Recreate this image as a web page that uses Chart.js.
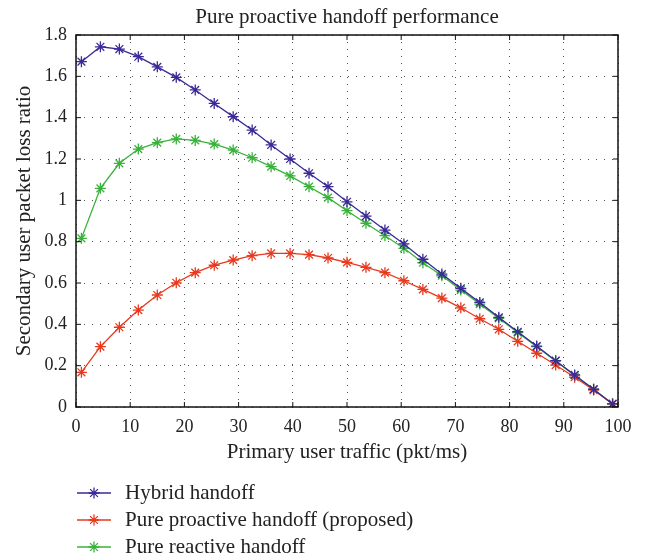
<!DOCTYPE html>
<html>
<head>
<meta charset="utf-8">
<script src="https://cdn.jsdelivr.net/npm/chart.js@4/dist/chart.umd.min.js"></script>
<style>
  html, body { margin: 0; padding: 0; background: #fff; }
  #wrap { width: 648px; height: 560px; }
</style>
</head>
<body>
<div id="wrap"><canvas id="lossChart" width="648" height="560"></canvas></div>
<script>
// Primary user traffic (pkt/ms)
const traffic = [1, 4.5, 8, 11.5, 15, 18.5, 22, 25.5, 29, 32.5, 36, 39.5, 43, 46.5, 50,
                 53.5, 57, 60.5, 64, 67.5, 71, 74.5, 78, 81.5, 85, 88.5, 92, 95.5, 99];

// Secondary user packet loss ratio
const hybrid = [1.671, 1.743, 1.732, 1.695, 1.646, 1.595, 1.534, 1.469, 1.405, 1.340,
                1.268, 1.200, 1.131, 1.066, 0.993, 0.924, 0.856, 0.789, 0.715, 0.643,
                0.574, 0.506, 0.434, 0.364, 0.295, 0.224, 0.155, 0.086, 0.015];
const proactive = [0.168, 0.292, 0.386, 0.469, 0.542, 0.601, 0.650, 0.686, 0.711, 0.732,
                   0.743, 0.743, 0.737, 0.721, 0.700, 0.676, 0.650, 0.611, 0.569, 0.527,
                   0.480, 0.427, 0.376, 0.318, 0.260, 0.203, 0.144, 0.082, 0.015];
const reactive = [0.816, 1.058, 1.179, 1.248, 1.279, 1.297, 1.290, 1.272, 1.243, 1.206,
                  1.163, 1.118, 1.066, 1.013, 0.950, 0.889, 0.829, 0.768, 0.698, 0.635,
                  0.566, 0.498, 0.429, 0.360, 0.292, 0.223, 0.153, 0.086, 0.015];

const seriesNames = ['Hybrid handoff', 'Pure proactive handoff (proposed)', 'Pure reactive handoff'];
const xTicks = [0, 10, 20, 30, 40, 50, 60, 70, 80, 90, 100];
const yTicks = [0, 0.2, 0.4, 0.6, 0.8, 1, 1.2, 1.4, 1.6, 1.8];

const FONT = '"Liberation Serif", "DejaVu Serif", serif';
const colors = ['#3a2a98', '#e8391d', '#38b23a'];

function makeSet(label, values, color) {
    return {
        label: label,
        data: traffic.map((x, i) => ({ x: x, y: values[i] })),
        borderColor: color,
        backgroundColor: color,
        borderWidth: 1.3,
        pointStyle: 'star',
        pointRadius: 5.5,
        pointBorderWidth: 1.3,
        pointBorderColor: color,
        tension: 0
    };
}

// center the title over the plot area instead of the whole canvas
const titleCenterPlugin = {
    id: 'titleCenter',
    afterLayout(chart) {
        if (chart.titleBlock) {
            chart.titleBlock.left = chart.chartArea.left;
            chart.titleBlock.right = chart.chartArea.right;
        }
    }
};

// frame with inward ticks, like the original plot
const framePlugin = {
    id: 'frame',
    afterDatasetsDraw(chart) {
        const { ctx, chartArea: a, scales } = chart;
        ctx.save();
        ctx.strokeStyle = '#111';
        ctx.lineWidth = 1.5;
        ctx.strokeRect(a.left, a.top, a.right - a.left, a.bottom - a.top);
        ctx.lineWidth = 1;
        const len = 5;
        xTicks.forEach(v => {
            const px = scales.x.getPixelForValue(v);
            ctx.beginPath();
            ctx.moveTo(px, a.bottom); ctx.lineTo(px, a.bottom - len);
            ctx.moveTo(px, a.top); ctx.lineTo(px, a.top + len);
            ctx.stroke();
        });
        yTicks.forEach(v => {
            const py = scales.y.getPixelForValue(v);
            ctx.beginPath();
            ctx.moveTo(a.left, py); ctx.lineTo(a.left + len, py);
            ctx.moveTo(a.right, py); ctx.lineTo(a.right - len, py);
            ctx.stroke();
        });
        ctx.restore();
    }
};

// vertical legend under the plot: line + star marker + text
const legendPlugin = {
    id: 'stackLegend',
    afterDraw(chart) {
        const { ctx, chartArea: a } = chart;
        ctx.save();
        ctx.font = '21px ' + FONT;
        ctx.textBaseline = 'middle';
        chart.data.datasets.forEach((ds, i) => {
            const y = 493 + i * 27;
            const x0 = a.left + 1;
            ctx.strokeStyle = ds.borderColor;
            ctx.lineWidth = 1.3;
            ctx.beginPath();
            ctx.moveTo(x0, y); ctx.lineTo(x0 + 34, y);
            ctx.stroke();
            // star marker
            const cx = x0 + 17, r = 5.5;
            ctx.beginPath();
            ctx.moveTo(cx - r, y); ctx.lineTo(cx + r, y);
            ctx.moveTo(cx, y - r); ctx.lineTo(cx, y + r);
            const d = r * 0.707;
            ctx.moveTo(cx - d, y - d); ctx.lineTo(cx + d, y + d);
            ctx.moveTo(cx - d, y + d); ctx.lineTo(cx + d, y - d);
            ctx.stroke();
            ctx.fillStyle = '#222';
            ctx.fillText(ds.label, x0 + 48, y);
        });
        ctx.restore();
    }
};

const ctx = document.getElementById('lossChart').getContext('2d');
new Chart(ctx, {
    type: 'line',
    data: {
        datasets: [
            makeSet(seriesNames[0], hybrid, colors[0]),
            makeSet(seriesNames[1], proactive, colors[1]),
            makeSet(seriesNames[2], reactive, colors[2])
        ]
    },
    options: {
        responsive: false,
        animation: false,
        layout: { padding: { left: 0, right: 30, top: 0, bottom: 93 } },
        plugins: {
            legend: { display: false },
            tooltip: { enabled: false },
            title: {
                display: true,
                text: 'Pure proactive handoff performance',
                color: '#222',
                font: { family: FONT, size: 21, weight: 'normal', lineHeight: 1.2 },
                padding: { top: 5, bottom: 4.8 }
            }
        },
        scales: {
            x: {
                type: 'linear',
                min: 0,
                max: 100,
                afterFit: s => { s.height = 60; },
                afterBuildTicks: s => { s.ticks = xTicks.map(v => ({ value: v })); },
                ticks: {
                    color: '#222',
                    font: { family: FONT, size: 18 },
                    padding: 9,
                    maxRotation: 0
                },
                grid: {
                    color: '#555',
                    lineWidth: 1,
                    drawTicks: false,
                    tickLength: 0
                },
                border: { display: false, dash: [1, 6] },
                title: {
                    display: true,
                    text: 'Primary user traffic (pkt/ms)',
                    color: '#222',
                    font: { family: FONT, size: 21 },
                    padding: { top: 0, bottom: 2.4 }
                }
            },
            y: {
                type: 'linear',
                min: 0,
                max: 1.8,
                afterFit: s => { s.width = 76; },
                afterBuildTicks: s => { s.ticks = yTicks.map(v => ({ value: v })); },
                ticks: {
                    color: '#222',
                    font: { family: FONT, size: 18 },
                    padding: 9,
                    callback: v => String(Math.round(v * 10) / 10)
                },
                grid: {
                    color: '#555',
                    lineWidth: 1,
                    drawTicks: false,
                    tickLength: 0
                },
                border: { display: false, dash: [1, 7] },
                title: {
                    display: true,
                    text: 'Secondary user packet loss ratio',
                    color: '#222',
                    font: { family: FONT, size: 21 },
                    padding: { top: 12, bottom: 0 }
                }
            }
        }
    },
    plugins: [titleCenterPlugin, framePlugin, legendPlugin]
});
</script>
</body>
</html>
